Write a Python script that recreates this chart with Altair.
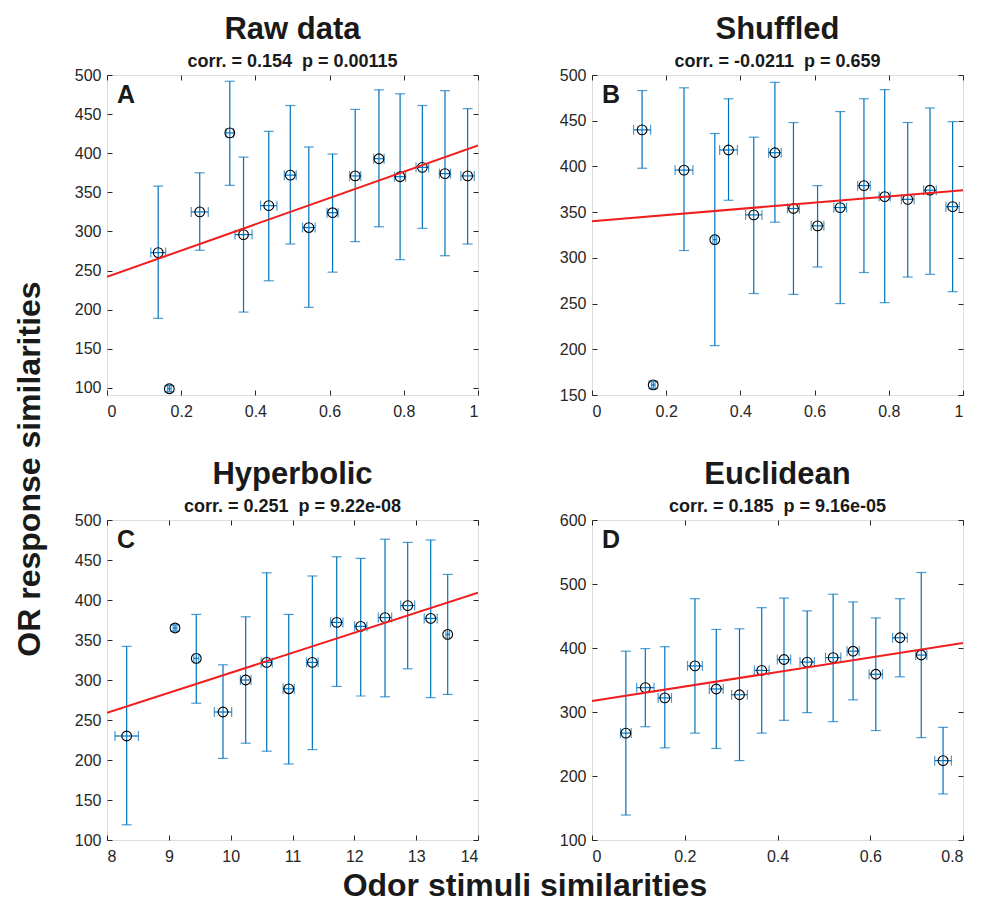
import altair as alt
import pandas as pd

FONT = "Liberation Sans"
BLUE = "#0072BD"
RED = "#F01E1E"
DARK = "#262626"

# ---------------- Panel A : Raw data ----------------
a_x = [0.138, 0.168, 0.250, 0.331, 0.368, 0.436, 0.494, 0.544, 0.608, 0.669, 0.733, 0.790, 0.850, 0.911, 0.972]
a_y = [273, 99, 325, 426, 296, 333, 372, 305, 324, 371, 393, 370, 382, 374, 371]
a_lo = [189, 95, 276, 359, 197, 237, 284, 203, 248, 287, 306, 264, 304, 269, 284]
a_hi = [358, 103, 375, 492, 395, 428, 461, 408, 399, 456, 481, 476, 461, 480, 457]
a_xe = [0.020, 0.005, 0.023, 0.010, 0.023, 0.022, 0.016, 0.017, 0.015, 0.015, 0.014, 0.015, 0.017, 0.015, 0.018]
a_line_x = [0, 1]
a_line_y = [242, 410]

# ---------------- Panel B : Shuffled ----------------
b_x = [0.135, 0.165, 0.248, 0.331, 0.368, 0.436, 0.493, 0.543, 0.608, 0.669, 0.733, 0.789, 0.851, 0.911, 0.972]
b_y = [440, 161, 396, 320, 418, 347, 415, 354, 335, 355, 379, 367, 364, 374, 356]
b_lo = [398, 157, 308, 204, 363, 261, 339, 260, 290, 250, 284, 251, 279, 282, 263]
b_hi = [483, 165, 486, 436, 474, 432, 492, 448, 379, 460, 474, 484, 448, 464, 449]
b_xe = [0.023, 0.005, 0.024, 0.005, 0.024, 0.022, 0.017, 0.016, 0.017, 0.017, 0.017, 0.015, 0.017, 0.017, 0.018]
b_line_x = [0, 1]
b_line_y = [340, 374]

# ---------------- Panel C : Hyperbolic ----------------
c_x = [8.318, 9.10, 9.444, 9.876, 10.243, 10.583, 10.939, 11.321, 11.715, 12.103, 12.496, 12.863, 13.235, 13.51]
c_y = [230, 365, 327, 260, 300, 322, 289, 322, 372, 367, 378, 393, 377, 357]
c_lo = [119, 361, 271, 202, 221, 211, 195, 213, 292, 280, 279, 314, 278, 282]
c_hi = [342, 369, 382, 319, 379, 434, 382, 430, 454, 452, 476, 472, 475, 432]
c_xe = [0.19, 0.03, 0.04, 0.14, 0.086, 0.09, 0.09, 0.094, 0.10, 0.10, 0.108, 0.113, 0.105, 0.03]
c_line_x = [8, 14]
c_line_y = [259, 409]

# ---------------- Panel D : Euclidean ----------------
d_x = [0.073, 0.115, 0.157, 0.222, 0.268, 0.318, 0.366, 0.414, 0.464, 0.520, 0.563, 0.612, 0.664, 0.710, 0.757]
d_y = [267, 338, 322, 372, 336, 327, 365, 382, 378, 385, 395, 359, 416, 389, 224]
d_lo = [139, 277, 244, 267, 243, 224, 267, 287, 299, 285, 319, 271, 355, 260, 172]
d_hi = [395, 399, 402, 477, 429, 430, 463, 478, 458, 484, 472, 447, 477, 518, 276]
d_xe = [0.0115, 0.0187, 0.0144, 0.016, 0.015, 0.017, 0.016, 0.0144, 0.0155, 0.0165, 0.013, 0.0144, 0.016, 0.012, 0.018]
d_line_x = [0, 0.8]
d_line_y = [317, 408]

W, H = 371, 320
LFS = 16


def panel(xs, ys, lo, hi, xe, lx, ly, xdom, ydom, xticks, yticks, xfmt, title, subtitle, letter):
    df = pd.DataFrame({
        "x": xs, "y": ys, "ylo": lo, "yhi": hi,
        "xlo": [a - e for a, e in zip(xs, xe)],
        "xhi": [a + e for a, e in zip(xs, xe)],
    })
    ldf = pd.DataFrame({"x": lx, "y": ly})
    xsc = alt.Scale(domain=xdom, nice=False, zero=False)
    ysc = alt.Scale(domain=ydom, nice=False, zero=False)
    common = dict(title=None, domain=False, grid=False, tickSize=5, offset=-5,
                  tickColor=DARK, tickWidth=1, labelFont=FONT, labelFontSize=LFS,
                  labelColor=DARK)
    ax_b = alt.Axis(values=xticks, format=xfmt, orient="bottom", labelPadding=8, **common)
    ax_l = alt.Axis(values=yticks, format="d", orient="left", labelPadding=6, **common)
    ax_t = alt.Axis(values=xticks, orient="top", labels=False, **common)
    ax_r = alt.Axis(values=yticks, orient="right", labels=False, **common)

    base = alt.Chart(df)
    vbars = base.mark_rule(color=BLUE, strokeWidth=1.2).encode(
        x=alt.X("x:Q", scale=xsc, axis=ax_b),
        y=alt.Y("ylo:Q", scale=ysc, axis=ax_l),
        y2="yhi:Q",
    )
    hbars = base.mark_rule(color=BLUE, strokeWidth=1.2).encode(
        x=alt.X("xlo:Q", scale=xsc, axis=None),
        x2="xhi:Q",
        y=alt.Y("y:Q", scale=ysc, axis=None),
    )
    vcaps = base.transform_fold(["ylo", "yhi"], as_=["k", "v"]).mark_tick(
        orient="horizontal", color=BLUE, size=10, thickness=1.2
    ).encode(
        x=alt.X("x:Q", scale=xsc, axis=None),
        y=alt.Y("v:Q", scale=ysc, axis=None),
    )
    hcaps = base.transform_fold(["xlo", "xhi"], as_=["k", "v"]).mark_tick(
        orient="vertical", color=BLUE, size=10, thickness=1.2
    ).encode(
        x=alt.X("v:Q", scale=xsc, axis=None),
        y=alt.Y("y:Q", scale=ysc, axis=None),
    )
    pts = base.mark_point(shape="circle", filled=False, color="black", size=95,
                          strokeWidth=1.1, opacity=1).encode(
        x=alt.X("x:Q", scale=xsc, axis=None),
        y=alt.Y("y:Q", scale=ysc, axis=None),
    )
    line = alt.Chart(ldf).mark_line(color=RED, strokeWidth=2, clip=True).encode(
        x=alt.X("x:Q", scale=xsc, axis=ax_t),
        y=alt.Y("y:Q", scale=ysc, axis=ax_r),
    )
    lab = alt.Chart(pd.DataFrame({"t": [letter]})).mark_text(
        font=FONT, fontSize=25, fontWeight="bold", align="left", baseline="top", color="#1a1a1a"
    ).encode(x=alt.value(10), y=alt.value(8), text="t:N")

    return alt.layer(vbars, hbars, vcaps, hcaps, pts, line, lab).resolve_axis(
        x="independent", y="independent"
    ).properties(
        width=W, height=H,
        title=alt.TitleParams(
            title, subtitle=subtitle, font=FONT, fontSize=31, fontWeight="bold",
            subtitleFont=FONT, subtitleFontSize=18, subtitleFontWeight="bold",
            color="#1a1a1a", subtitleColor="#1a1a1a", anchor="middle",
            offset=-5, subtitlePadding=7,
        ),
    )


x01 = [0, 0.2, 0.4, 0.6, 0.8, 1]
pa = panel(a_x, a_y, a_lo, a_hi, a_xe, a_line_x, a_line_y, [0, 1], [91, 500], x01,
           list(range(100, 501, 50)), "~g", "Raw data", "corr. = 0.154\u00a0\u00a0p = 0.00115", "A")
pb = panel(b_x, b_y, b_lo, b_hi, b_xe, b_line_x, b_line_y, [0, 1], [150, 500], x01,
           list(range(150, 501, 50)), "~g", "Shuffled", "corr. = -0.0211\u00a0\u00a0p = 0.659", "B")
pc = panel(c_x, c_y, c_lo, c_hi, c_xe, c_line_x, c_line_y, [8, 14], [100, 500],
           list(range(8, 15)), list(range(100, 501, 50)), "d", "Hyperbolic",
           "corr. = 0.251\u00a0\u00a0p = 9.22e-08", "C")
pd_ = panel(d_x, d_y, d_lo, d_hi, d_xe, d_line_x, d_line_y, [0, 0.8], [100, 600],
            [0, 0.2, 0.4, 0.6, 0.8], list(range(100, 601, 100)), "~g", "Euclidean",
            "corr. = 0.185\u00a0\u00a0p = 9.16e-05", "D")

row1 = alt.hconcat(pa, pb, spacing=79)
row2 = alt.hconcat(pc, pd_, spacing=79)
inner = alt.vconcat(row1, row2, spacing=38).properties(
    title=alt.TitleParams("OR response similarities", orient="left", font=FONT, fontSize=32,
                          fontWeight="bold", color="#1a1a1a", anchor="middle", offset=27,
                          dx=-30)
)
chart = alt.vconcat(inner).properties(
    title=alt.TitleParams("Odor stimuli similarities", orient="bottom", font=FONT, fontSize=32,
                          fontWeight="bold", color="#1a1a1a", anchor="middle", offset=6,
                          dx=36)
).configure_view(stroke=DARK, strokeWidth=1).configure(background="white")

chart.save("out.html", embed_options={"renderer": "svg", "actions": False})
